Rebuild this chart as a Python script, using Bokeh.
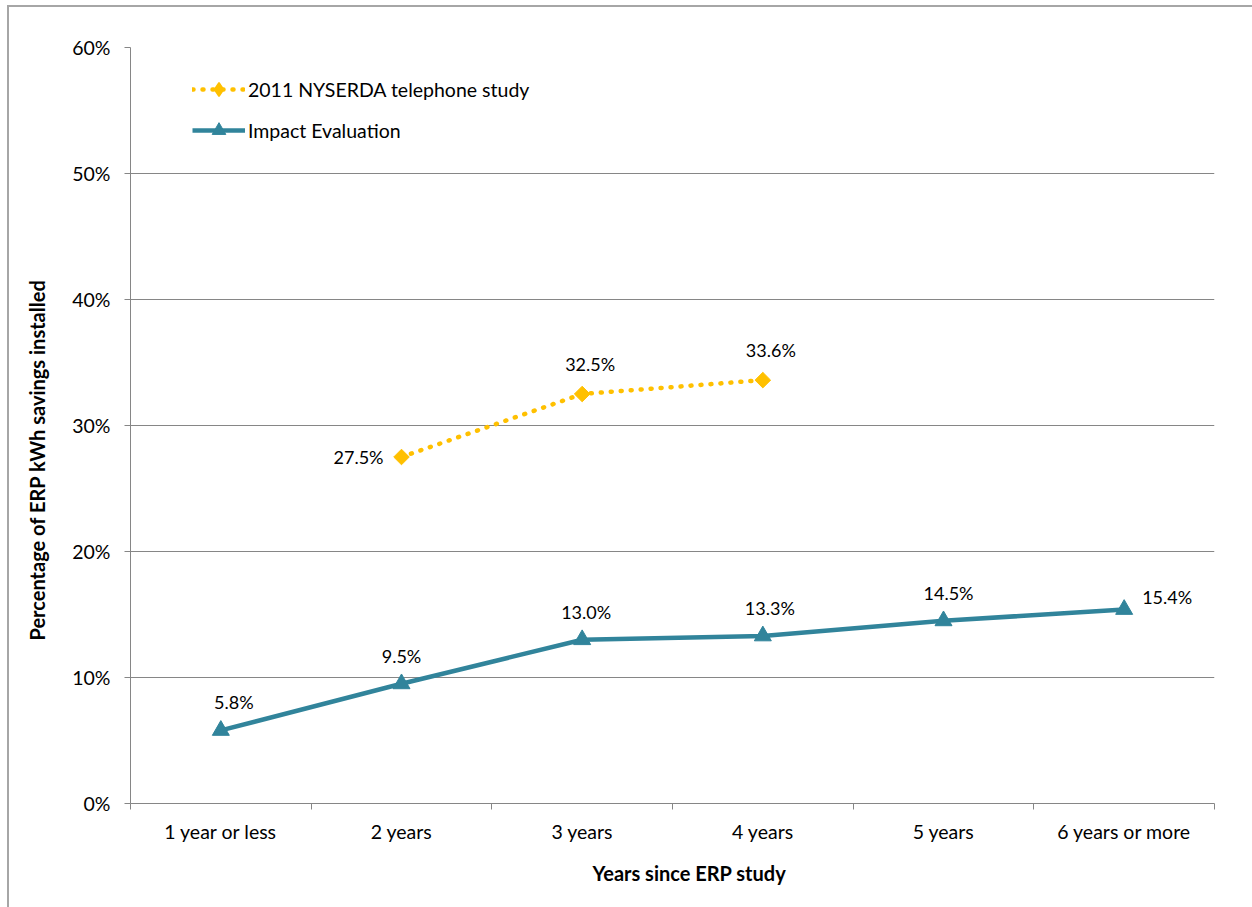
import numpy as np
from bokeh.plotting import figure
from bokeh.models import (ColumnDataSource, FixedTicker, NumeralTickFormatter,
                          Legend, LegendItem, Title, Range1d, InlineStyleSheet)
from bokeh.core.properties import value
from bokeh.embed import file_html
from bokeh.resources import INLINE

# --- data ---------------------------------------------------------------
categories = ["1 year or less", "2 years", "3 years", "4 years", "5 years", "6 years or more"]
impact_values = [5.8, 9.5, 13.0, 13.3, 14.5, 15.4]          # percent
nyserda_categories = ["2 years", "3 years", "4 years"]
nyserda_values = [27.5, 32.5, 33.6]                           # percent
y_ticks = [0, 10, 20, 30, 40, 50, 60]

# --- styling ------------------------------------------------------------
FONT = "Lato"
GRID = "#868686"
TEAL = "#31849B"
GOLD = "#FFC000"
TICK_SIZE = "19.5px"
LABEL_SIZE = "18px"

# pixel nudges for the value labels, one per point
impact_label_dx = [13, 0, 4, 7, 5, 18]
nyserda_label_dx = [-18, 8, 8]

cat_pos = {c: i + 0.5 for i, c in enumerate(categories)}

impact_src = ColumnDataSource(dict(
    x=[cat_pos[c] for c in categories],
    y=[v / 100 for v in impact_values],
    label=[f"{v:.1f}%" for v in impact_values],
))
nyserda_src = ColumnDataSource(dict(
    x=[cat_pos[c] for c in nyserda_categories],
    y=[v / 100 for v in nyserda_values],
    label=[f"{v:.1f}%" for v in nyserda_values],
))

p = figure(width=1252, height=907, output_backend="svg", toolbar_location=None,
           x_range=Range1d(0, len(categories)), y_range=Range1d(0, 0.6),
           min_border_left=130, min_border_right=38, min_border_top=47,
           min_border_bottom=104)
p.outline_line_color = None
p.background_fill_color = "white"
p.border_fill_color = "white"

# thin grey frame along the top and left edge of the chart area
p.stylesheets = [InlineStyleSheet(css="""
:host { position: relative; }
:host::after {
  content: ""; position: absolute; left: 7px; top: 5px;
  width: calc(100% - 7px); height: calc(100% - 5px);
  border-top: 2px solid #a6a6a6; border-left: 2px solid #a6a6a6;
  box-sizing: border-box; pointer-events: none; z-index: 5;
}
""")]

# y axis: percent ticks with gridlines
p.yaxis.ticker = FixedTicker(ticks=[t / 100 for t in y_ticks])
p.yaxis.formatter = NumeralTickFormatter(format="0%")
p.yaxis.axis_line_color = GRID
p.yaxis.major_tick_line_color = GRID
p.yaxis.major_tick_out = 6
p.yaxis.major_tick_in = 0
p.yaxis.minor_tick_line_color = None
p.yaxis.major_label_standoff = 14
p.yaxis.major_label_text_font = FONT
p.yaxis.major_label_text_font_size = TICK_SIZE
p.yaxis.major_label_text_color = "#000000"
p.ygrid.grid_line_color = GRID
p.ygrid.grid_line_width = 1
p.xgrid.grid_line_color = None

# x axis: labels at category centres, tick marks at category boundaries
p.xaxis.ticker = FixedTicker(ticks=[cat_pos[c] for c in categories],
                             minor_ticks=list(range(len(categories) + 1)))
p.xaxis.major_label_overrides = {cat_pos[c]: c for c in categories}
p.xaxis.major_tick_out = 0
p.xaxis.major_tick_in = 0
p.xaxis.minor_tick_out = 6
p.xaxis.minor_tick_in = 0
p.xaxis.minor_tick_line_color = GRID
p.xaxis.axis_line_color = GRID
p.xaxis.major_label_standoff = 10
p.xaxis.major_label_text_font = FONT
p.xaxis.major_label_text_font_size = TICK_SIZE
p.xaxis.major_label_text_color = "#000000"

# axis titles
p.add_layout(Title(text="Years since ERP study", align="left", offset=462,
                   standoff=27, text_font=FONT, text_font_size="20px",
                   text_font_style="bold", text_color="#000000"), "below")
p.add_layout(Title(text="Percentage of ERP kWh savings installed", align="left",
                   offset=163, standoff=42, text_font=FONT, text_font_size="20px",
                   text_font_style="bold", text_color="#000000"), "left")

# series
l1 = p.line("x", "y", source=nyserda_src, line_color=GOLD, line_width=4.5,
            line_dash="1 9", line_cap="round")
# diamond key for the legend; it sits underneath the rotated squares
m1_key = p.scatter("x", "y", source=nyserda_src, marker="diamond", size=10,
                   fill_color=GOLD, line_color=GOLD, line_width=1.5)
m1 = p.scatter("x", "y", source=nyserda_src, marker="square", angle=np.pi / 4,
               size=11, fill_color=GOLD, line_color=GOLD)
l2 = p.line("x", "y", source=impact_src, line_color=TEAL, line_width=4.5)
m2 = p.scatter("x", "y", source=impact_src, marker="triangle", size=17,
               fill_color=TEAL, line_color=TEAL)

# value labels
def add_labels(src, idx, dx, dy, align):
    sub = ColumnDataSource(dict(x=[src.data["x"][i] for i in idx],
                                y=[src.data["y"][i] for i in idx],
                                label=[src.data["label"][i] for i in idx],
                                dx=[dx[i] for i in idx]))
    p.text("x", "y", text="label", source=sub, x_offset="dx", y_offset=dy,
           text_align=align, text_baseline="middle", text_font=value(FONT),
           text_font_size=LABEL_SIZE, text_color="#000000")

add_labels(impact_src, [0, 1, 2, 3, 4], impact_label_dx, -28, "center")
add_labels(impact_src, [5], impact_label_dx, -12, "left")
add_labels(nyserda_src, [0], nyserda_label_dx, 0, "right")
add_labels(nyserda_src, [1, 2], nyserda_label_dx, -30, "center")

legend = Legend(items=[
    LegendItem(label="2011 NYSERDA telephone study", renderers=[l1, m1_key]),
    LegendItem(label="Impact Evaluation", renderers=[l2, m2]),
], location=(62, 656))
legend.margin = 0
legend.padding = 0
legend.spacing = 7
legend.glyph_width = 53
legend.glyph_height = 34
legend.label_standoff = 3
legend.label_text_font = FONT
legend.label_text_font_size = "19.5px"
legend.label_text_color = "#000000"
legend.border_line_color = None
legend.background_fill_alpha = 0
p.add_layout(legend)

open("out.html", "w").write(file_html(p, INLINE))
